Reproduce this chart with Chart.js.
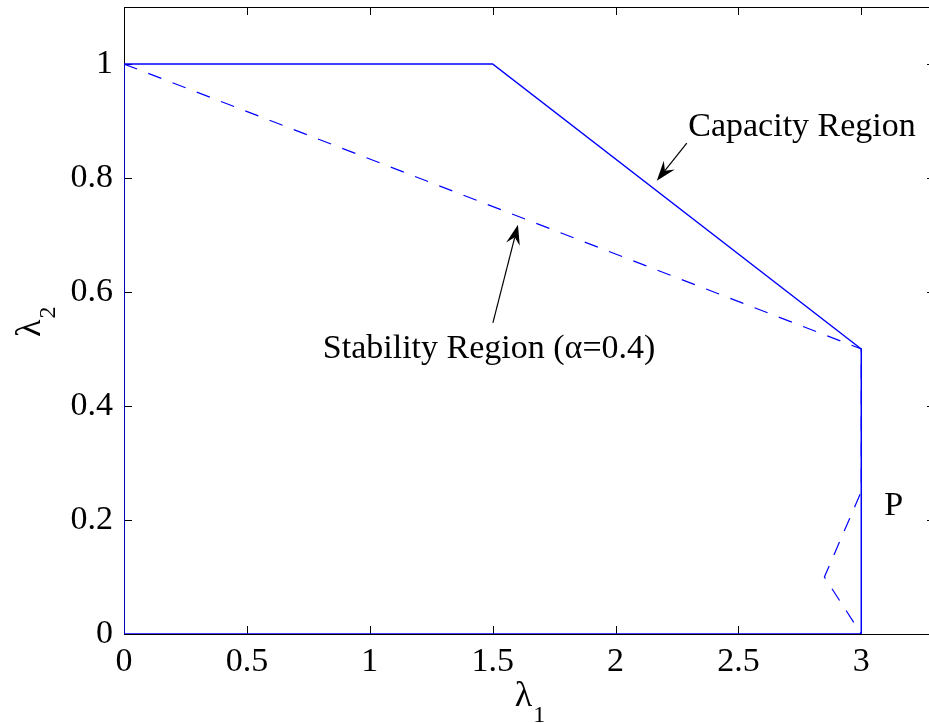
<!DOCTYPE html>
<html>
<head>
<meta charset="utf-8">
<script src="https://cdn.jsdelivr.net/npm/chart.js@4.4.1/dist/chart.umd.min.js"></script>
<style>
  html, body { margin: 0; padding: 0; background: #fff; overflow: hidden; }
  #region-chart { display: block; }
</style>
</head>
<body>
<canvas id="region-chart" width="940" height="723"></canvas>
<script>
// boundary of the capacity region (solid)
const capacityX = [0, 0, 1.5, 3, 3, 0];
const capacityY = [0, 1, 1, 0.5, 0, 0];

// boundary of the stability region for alpha = 0.4 (dashed)
const stabilityX = [0, 3, 3, 2.85, 3];
const stabilityY = [1, 0.5, 0.25, 0.1, 0];

const xTicks = [0, 0.5, 1, 1.5, 2, 2.5, 3];
const yTicks = [0, 0.2, 0.4, 0.6, 0.8, 1];
const xTickLabels = ["0", "0.5", "1", "1.5", "2", "2.5", "3"];
const yTickLabels = ["0", "0.2", "0.4", "0.6", "0.8", "1"];

const serif = "Liberation Serif";

function toPoints(xs, ys) {
  return xs.map((x, i) => ({ x: x, y: ys[i] }));
}

function arrow(ctx, x0, y0, x1, y1) {
  const ang = Math.atan2(y1 - y0, x1 - x0);
  const len = 20, half = 7, notch = 13;
  ctx.beginPath();
  ctx.moveTo(x0, y0);
  ctx.lineTo(x1 - Math.cos(ang) * notch, y1 - Math.sin(ang) * notch);
  ctx.lineWidth = 1.2;
  ctx.strokeStyle = "#000";
  ctx.stroke();
  const bx = x1 - Math.cos(ang) * len, by = y1 - Math.sin(ang) * len;
  const nx = x1 - Math.cos(ang) * notch, ny = y1 - Math.sin(ang) * notch;
  ctx.beginPath();
  ctx.moveTo(x1, y1);
  ctx.lineTo(bx + Math.sin(ang) * half, by - Math.cos(ang) * half);
  ctx.lineTo(nx, ny);
  ctx.lineTo(bx - Math.sin(ang) * half, by + Math.cos(ang) * half);
  ctx.closePath();
  ctx.fillStyle = "#000";
  ctx.fill();
}

// axes box, inward ticks on all four sides
const boxPlugin = {
  id: "box",
  beforeDatasetsDraw(chart) {
    const { ctx, chartArea: a, scales } = chart;
    ctx.save();
    ctx.strokeStyle = "#000";
    ctx.lineWidth = 1;
    ctx.strokeRect(a.left + 0.5, a.top + 0.5, a.right - a.left, a.bottom - a.top);
    const tl = 8;
    ctx.beginPath();
    xTicks.forEach(v => {
      const px = Math.round(scales.x.getPixelForValue(v)) + 0.5;
      ctx.moveTo(px, a.bottom); ctx.lineTo(px, a.bottom - tl);
      ctx.moveTo(px, a.top); ctx.lineTo(px, a.top + tl);
    });
    yTicks.forEach(v => {
      const py = Math.round(scales.y.getPixelForValue(v)) + 0.5;
      ctx.moveTo(a.left, py); ctx.lineTo(a.left + tl, py);
      ctx.moveTo(a.right, py); ctx.lineTo(a.right - tl, py);
    });
    ctx.stroke();
    ctx.restore();
  },
  afterDraw(chart) {
    const { ctx, chartArea: a, scales } = chart;
    const X = v => scales.x.getPixelForValue(v);
    const Y = v => scales.y.getPixelForValue(v);
    ctx.save();
    ctx.fillStyle = "#000";

    // axis titles
    ctx.textBaseline = "alphabetic";
    ctx.textAlign = "left";
    ctx.font = "36px '" + serif + "'";
    const lw = ctx.measureText("λ").width;
    const cx = (a.left + a.right) / 2 - 6;
    ctx.fillText("λ", cx - lw / 2, 706);
    ctx.font = "24px '" + serif + "'";
    ctx.fillText("1", cx + lw / 2 + 1, 722);

    ctx.save();
    ctx.translate(40, 337);
    ctx.rotate(-Math.PI / 2);
    ctx.font = "36px '" + serif + "'";
    ctx.fillText("λ", 0, 0);
    ctx.font = "24px '" + serif + "'";
    ctx.fillText("2", lw + 1, 15);
    ctx.restore();

    // annotations
    ctx.font = "34px '" + serif + "'";
    ctx.fillText("Capacity Region", X(2.296), Y(0.874));
    ctx.fillText("Stability Region (α=0.4)", X(0.809), Y(0.484));
    ctx.fillText("P", X(3.094), Y(0.209));

    arrow(ctx, X(2.29), Y(0.861), X(2.168), Y(0.795));
    arrow(ctx, X(1.501), Y(0.546), X(1.603), Y(0.718));
    ctx.restore();
  }
};

function draw() {
  new Chart(document.getElementById("region-chart"), {
    type: "scatter",
    data: {
      datasets: [
        {
          label: "Capacity Region",
          data: toPoints(capacityX, capacityY),
          showLine: true,
          borderColor: "#0000ff",
          borderWidth: 1.5,
          pointRadius: 0,
          tension: 0
        },
        {
          label: "Stability Region",
          data: toPoints(stabilityX, stabilityY),
          showLine: true,
          borderColor: "#0000ff",
          borderWidth: 1.2,
          borderDash: [14, 12],
          pointRadius: 0,
          tension: 0
        }
      ]
    },
    options: {
      responsive: false,
      animation: false,
      events: [],
      layout: { padding: { top: 7, right: 5, left: 0, bottom: 0 } },
      plugins: { legend: { display: false }, tooltip: { enabled: false } },
      scales: {
        x: {
          type: "linear",
          min: 0,
          max: 3.3,
          grid: { display: false, drawTicks: false },
          border: { display: false },
          afterBuildTicks: s => { s.ticks = xTicks.map(v => ({ value: v })); },
          afterFit: s => { s.height = 89; s.paddingLeft = 0; s.paddingRight = 0; },
          ticks: {
            maxRotation: 0,
            autoSkip: false,
            padding: 8,
            color: "#000",
            font: { family: "'" + serif + "'", size: 34 },
            callback: (v, i) => xTickLabels[i]
          }
        },
        y: {
          type: "linear",
          min: 0,
          max: 1.1,
          grid: { display: false, drawTicks: false },
          border: { display: false },
          afterBuildTicks: s => { s.ticks = yTicks.map(v => ({ value: v })); },
          afterFit: s => { s.width = 124; s.paddingTop = 0; s.paddingBottom = 0; },
          ticks: {
            autoSkip: false,
            padding: 11,
            color: "#000",
            font: { family: "'" + serif + "'", size: 34 },
            callback: (v, i) => yTickLabels[i]
          }
        }
      }
    },
    plugins: [boxPlugin]
  });
}

// make sure the serif face is ready before drawing on the canvas
Promise.all([
  document.fonts.load("34px '" + serif + "'"),
  document.fonts.load("24px '" + serif + "'", "λα12")
]).then(draw, draw);
</script>
</body>
</html>
